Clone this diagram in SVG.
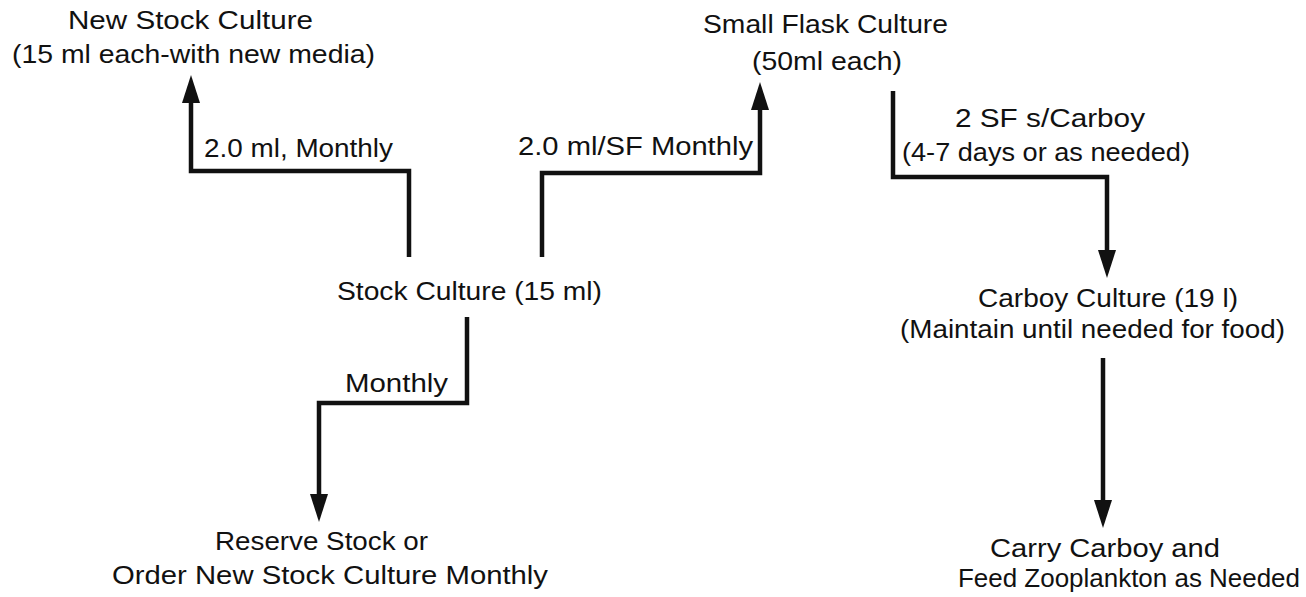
<svg xmlns="http://www.w3.org/2000/svg" width="1306" height="597" viewBox="0 0 1306 597">
<style>
text{font-family:"Liberation Sans",Arial,Helvetica,sans-serif;font-size:25px;fill:#111;}
.c{fill:none;stroke:#111;stroke-width:4.5;stroke-linejoin:miter;stroke-linecap:butt;}
</style>
<defs>
<marker id="ah" viewBox="0 0 28 20" refX="0" refY="10" markerWidth="28" markerHeight="20" markerUnits="userSpaceOnUse" orient="auto">
<path d="M0,1 L28,10 L0,19 z" fill="#111"/>
</marker>
</defs>
<rect width="1306" height="597" fill="#fff"/>
<g id="connectors">
<path class="c" d="M409,257 V171 H191 V103" marker-end="url(#ah)"/>
<path class="c" d="M542,257 V173 H760 V110" marker-end="url(#ah)"/>
<path class="c" d="M893,91 V177 H1107 V250" marker-end="url(#ah)"/>
<path class="c" d="M467,317 V403 H319 V494" marker-end="url(#ah)"/>
<path class="c" d="M1103,358 V500" marker-end="url(#ah)"/>
</g>
<g id="edge-labels">
<text x="204" y="157" textLength="189" lengthAdjust="spacingAndGlyphs">2.0 ml, Monthly</text>
<text x="518" y="155" textLength="235" lengthAdjust="spacingAndGlyphs">2.0 ml/SF Monthly</text>
<text x="955" y="127" textLength="190" lengthAdjust="spacingAndGlyphs">2 SF s/Carboy</text>
<text x="902" y="161" textLength="288" lengthAdjust="spacingAndGlyphs">(4-7 days or as needed)</text>
<text x="345" y="392" textLength="103" lengthAdjust="spacingAndGlyphs">Monthly</text>
</g>
<g id="node-new-stock">
<text x="68" y="29" textLength="245" lengthAdjust="spacingAndGlyphs">New Stock Culture</text>
<text x="12" y="63" textLength="363" lengthAdjust="spacingAndGlyphs">(15 ml each-with new media)</text>
</g>
<g id="node-stock">
<text x="337" y="300" textLength="265" lengthAdjust="spacingAndGlyphs">Stock Culture (15 ml)</text>
</g>
<g id="node-small-flask">
<text x="703" y="33" textLength="245" lengthAdjust="spacingAndGlyphs">Small Flask Culture</text>
<text x="752" y="70" textLength="150" lengthAdjust="spacingAndGlyphs">(50ml each)</text>
</g>
<g id="node-carboy">
<text x="978" y="307" textLength="260" lengthAdjust="spacingAndGlyphs">Carboy Culture (19 l)</text>
<text x="900" y="338" textLength="385" lengthAdjust="spacingAndGlyphs">(Maintain until needed for food)</text>
</g>
<g id="node-reserve">
<text x="215" y="550" textLength="213" lengthAdjust="spacingAndGlyphs">Reserve Stock or</text>
<text x="112" y="584" textLength="436" lengthAdjust="spacingAndGlyphs">Order New Stock Culture Monthly</text>
</g>
<g id="node-carry">
<text x="990" y="557" textLength="230" lengthAdjust="spacingAndGlyphs">Carry Carboy and</text>
<text x="958" y="587" textLength="342" lengthAdjust="spacingAndGlyphs">Feed Zooplankton as Needed</text>
</g>
</svg>
